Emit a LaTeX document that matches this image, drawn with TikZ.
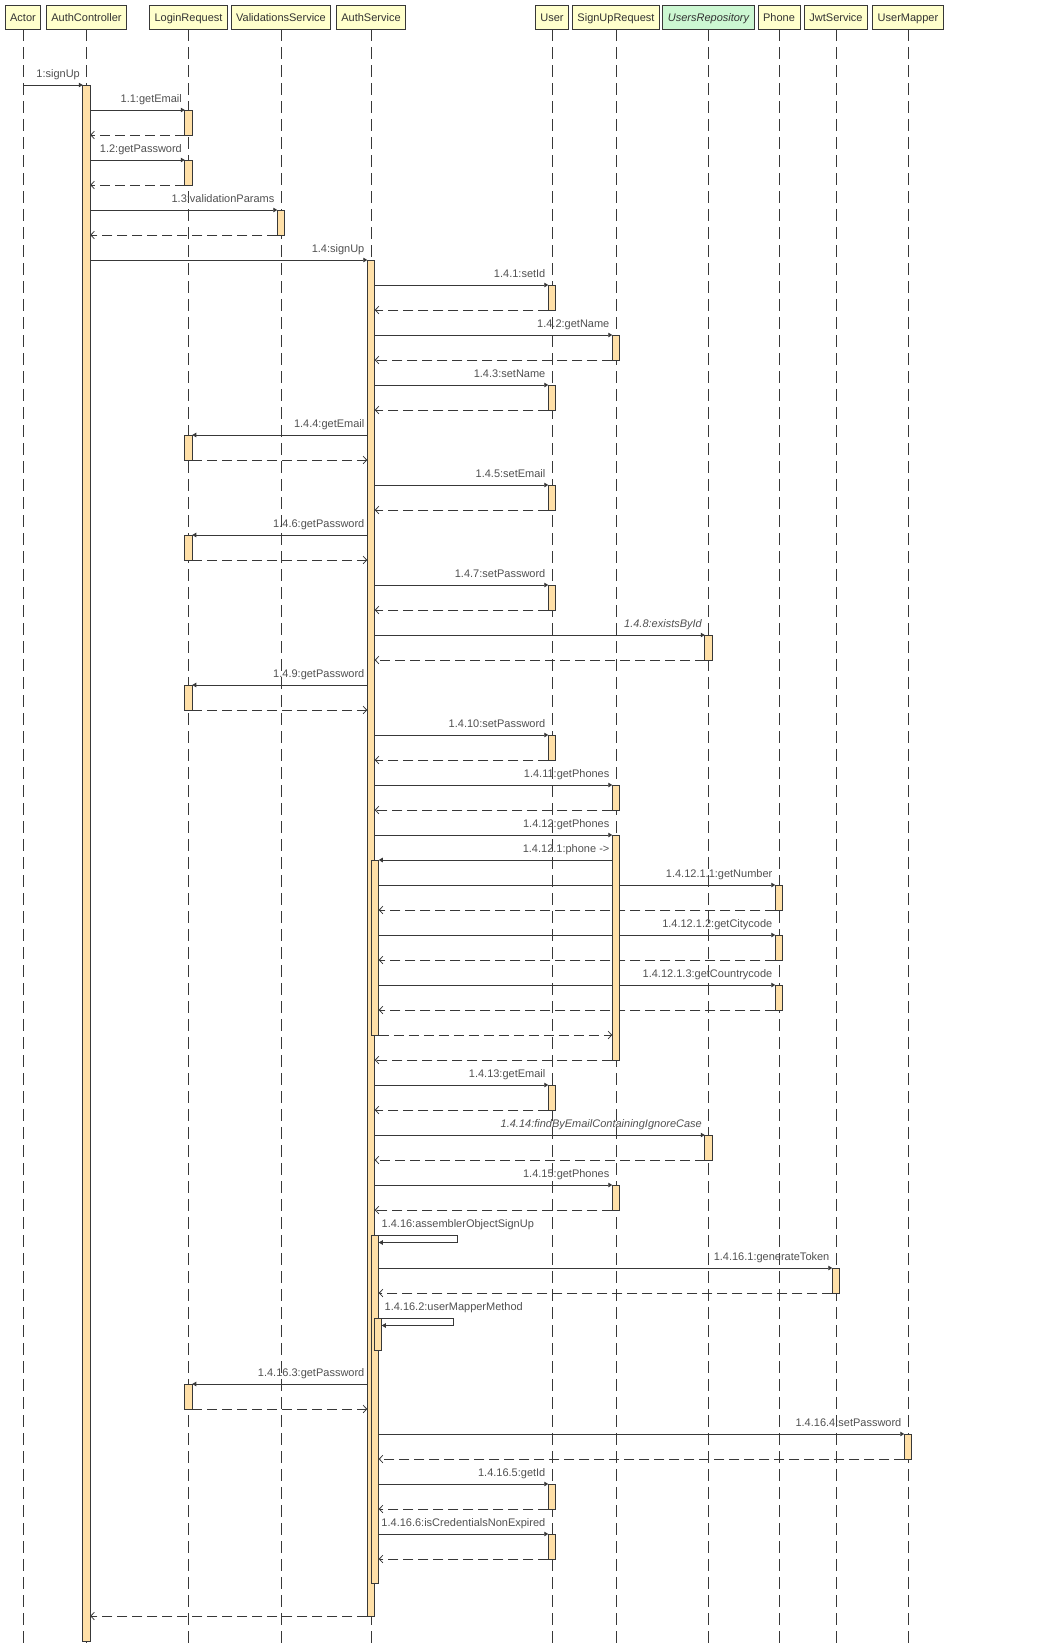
\documentclass[tikz,border=0pt]{standalone}
\usepackage{fontspec}
\setmainfont{Liberation Sans}
\usetikzlibrary{arrows.meta}
\definecolor{LineGray}{RGB}{56,56,56}
\definecolor{InkGray}{RGB}{51,51,51}
\definecolor{TextGray}{RGB}{80,80,80}
\definecolor{HeadYellow}{RGB}{255,255,204}
\definecolor{RepoGreen}{RGB}{204,247,210}
\definecolor{BarOrange}{RGB}{255,224,168}
\pgfdeclarelayer{back}
\pgfsetlayers{back,main}
\newcommand{\actbar}[5][0pt]{\node[actbox,xshift=#1,minimum height={(#5-#4)*1pt}] (#2) at (#3.south |- 0,#4) {};}
\newcommand{\callR}[3]{\draw[call] (#1.east |- #2.north) -- (#2.north west) node[lbl] (#2-l) {#3};}
\newcommand{\retL}[2]{\draw[ret] (#2.south west) -- (#1.east |- #2.south);}
\newcommand{\callL}[3]{\draw[call] (#1.west |- #2.north) -- (#2.north east) node[lbl,pos=0] (#2-l) {#3};}
\newcommand{\retR}[2]{\draw[ret] (#2.south east) -- (#1.west |- #2.south);}
\newcommand{\selfcall}[3]{\draw[call] (#2.north east) node[lbl,anchor=base west,xshift=5pt] (#2-l) {#1} -- ++(#3,0) -- ++(0,7.5) -- ++(-#3,0);}

\begin{document}
\begin{tikzpicture}[x=1pt,y=-1pt,
    font=\fontsize{11pt}{13pt}\selectfont,
    head/.style={draw=LineGray,fill=HeadYellow,line width=.8pt,minimum height=24pt,
      inner xsep=5pt,inner ysep=0pt,text height=9.5pt,text depth=1pt,text=InkGray},
    actbox/.style={draw=LineGray,fill=BarOrange,line width=.8pt,minimum width=7.5pt,
      inner sep=0pt,outer sep=0pt,anchor=north},
    life/.style={draw=LineGray,line width=.9pt,dash pattern=on 12pt off 6pt},
    call/.style={draw=LineGray,line width=.8pt,-{Triangle[length=4pt,width=4.5pt]}},
    ret/.style={draw=LineGray,line width=.8pt,dash pattern=on 10pt off 5pt,
      -{Straight Barb[length=3.5pt,width=7.5pt]}},
    lbl/.style={text=TextGray,inner sep=0pt,anchor=base east,xshift=-2.5pt,yshift=8pt}]
  \useasboundingbox (0,0) rectangle (1043,1647);
  \coordinate (bottom) at (0,1647);

  % lifeline heads
  \foreach \n/\x/\t in {actor/23/Actor, ctrl/86.5/AuthController, login/188.5/LoginRequest,
      valid/281/ValidationsService, auth/371/AuthService, user/552/User, sur/616/SignUpRequest,
      phone/779/Phone, jwt/836/JwtService, mapper/908/UserMapper}
    \node[head] (\n) at (\x,17) {\t};
  \node[head,fill=RepoGreen,font=\fontsize{11pt}{13pt}\selectfont\itshape] (repo) at (708.5,17) {UsersRepository};

  % activation bars
  \foreach \n/\l/\a/\b in {ctrl1/ctrl/85/1641, login1/login/110/135, login2/login/160/185,
      valid1/valid/210/235, auth1/auth/260/1616, user1/user/285/310, sur1/sur/335/360,
      user2/user/385/410, login3/login/435/460, user3/user/485/510, login4/login/535/560,
      user4/user/585/610, repo1/repo/635/660, login5/login/685/710, user5/user/735/760,
      sur2/sur/785/810, sur3/sur/835/1060, phone1/phone/885/910, phone2/phone/935/960,
      phone3/phone/985/1010, user6/user/1085/1110, repo2/repo/1135/1160, sur4/sur/1185/1210,
      jwt1/jwt/1268/1293, login6/login/1384/1409, mapper1/mapper/1434/1459,
      user7/user/1484/1509, user8/user/1534/1559}
    \actbar{\n}{\l}{\a}{\b};
  \actbar[4pt]{nest1}{auth}{860}{1035}
  \actbar[4pt]{nest2}{auth}{1235}{1583}
  \actbar[7pt]{nest3}{auth}{1318}{1350}

  \begin{pgfonlayer}{back}
    \foreach \n in {actor,ctrl,login,valid,auth,user,sur,repo,phone,jwt,mapper}
      \draw[life] (\n.south) -- (\n.south |- bottom);

    % messages
    \draw[call] (actor.south |- ctrl1.north) -- (ctrl1.north west) node[lbl] (ctrl1-l) {1:signUp};
    \callR{ctrl1}{login1}{1.1:getEmail}\retL{ctrl1}{login1}
    \callR{ctrl1}{login2}{1.2:getPassword}\retL{ctrl1}{login2}
    \callR{ctrl1}{valid1}{1.3:validationParams}\retL{ctrl1}{valid1}
    \callR{ctrl1}{auth1}{1.4:signUp}
    \callR{auth1}{user1}{1.4.1:setId}\retL{auth1}{user1}
    \callR{auth1}{sur1}{1.4.2:getName}\retL{auth1}{sur1}
    \callR{auth1}{user2}{1.4.3:setName}\retL{auth1}{user2}
    \callL{auth1}{login3}{1.4.4:getEmail}\retR{auth1}{login3}
    \callR{auth1}{user3}{1.4.5:setEmail}\retL{auth1}{user3}
    \callL{auth1}{login4}{1.4.6:getPassword}\retR{auth1}{login4}
    \callR{auth1}{user4}{1.4.7:setPassword}\retL{auth1}{user4}
    \callR{auth1}{repo1}{\itshape 1.4.8:existsById}\retL{auth1}{repo1}
    \callL{auth1}{login5}{1.4.9:getPassword}\retR{auth1}{login5}
    \callR{auth1}{user5}{1.4.10:setPassword}\retL{auth1}{user5}
    \callR{auth1}{sur2}{1.4.11:getPhones}\retL{auth1}{sur2}
    \callR{auth1}{sur3}{1.4.12:getPhones}
    \callL{sur3}{nest1}{1.4.12.1:phone ->}
    \callR{nest1}{phone1}{1.4.12.1.1:getNumber}\retL{nest1}{phone1}
    \callR{nest1}{phone2}{1.4.12.1.2:getCitycode}\retL{nest1}{phone2}
    \callR{nest1}{phone3}{1.4.12.1.3:getCountrycode}\retL{nest1}{phone3}
    \draw[ret] (nest1.south east) -- (sur3.west |- nest1.south);
    \retL{auth1}{sur3}
    \callR{auth1}{user6}{1.4.13:getEmail}\retL{auth1}{user6}
    \callR{auth1}{repo2}{\itshape 1.4.14:findByEmailContainingIgnoreCase}\retL{auth1}{repo2}
    \callR{auth1}{sur4}{1.4.15:getPhones}\retL{auth1}{sur4}
    \selfcall{1.4.16:assemblerObjectSignUp}{nest2}{79}
    \callR{nest2}{jwt1}{1.4.16.1:generateToken}\retL{nest2}{jwt1}
    \selfcall{1.4.16.2:userMapperMethod}{nest3}{72}
    \callL{auth1}{login6}{1.4.16.3:getPassword}\retR{auth1}{login6}
    \callR{nest2}{mapper1}{1.4.16.4:setPassword}\retL{nest2}{mapper1}
    \callR{nest2}{user7}{1.4.16.5:getId}\retL{nest2}{user7}
    \callR{nest2}{user8}{1.4.16.6:isCredentialsNonExpired}\retL{nest2}{user8}
    \retL{ctrl1}{auth1}
  \end{pgfonlayer}
\end{tikzpicture}
\end{document}
